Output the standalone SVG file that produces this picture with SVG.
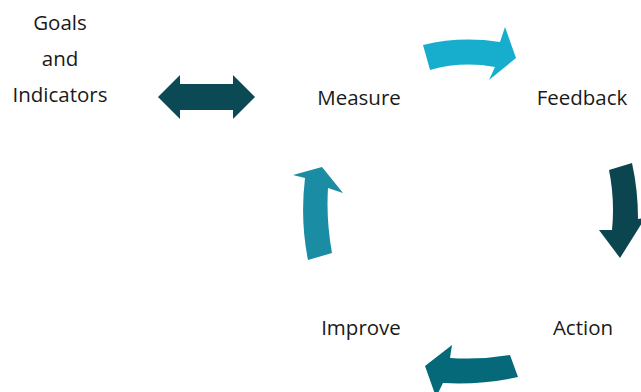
<svg xmlns="http://www.w3.org/2000/svg" width="641" height="392" viewBox="0 0 641 392">
<style>
text { font-family: "Open Sans", "Noto Sans", "DejaVu Sans", sans-serif; font-size: 20.5px; fill: #1a1a1a; }
.dark { fill: #0B4A55; }
</style>
<rect width="641" height="392" fill="#ffffff"/>
<g id="goals">
<text x="60" y="30" text-anchor="middle">Goals</text>
<text x="60" y="66" text-anchor="middle">and</text>
<text x="60" y="102" text-anchor="middle">Indicators</text>
</g>
<g id="measure"><text x="359" y="105" text-anchor="middle">Measure</text></g>
<g id="feedback"><text x="582" y="105" text-anchor="middle">Feedback</text></g>
<g id="action"><text x="583" y="335" text-anchor="middle">Action</text></g>
<g id="improve"><text x="361" y="335" text-anchor="middle">Improve</text></g>
<g id="connectors">
<path class="dark" d="M158,97 L180,75 L180,84 L233,84 L233,75 L255,97 L233,119 L233,110 L180,110 L180,119 Z"/>
<path fill="#17AECD" d="M423,45 Q460,36 500,42 L505,27 L516,58 L489,80 L495,67 Q462,61 430,70 Z"/>
<path fill="#0B4650" d="M609,170 Q615,200 612,230 L599,230 L620,258 L645,218 L638,219 Q638,190 632,163 Z"/>
<path fill="#05697A" d="M510,355 Q480,360 450,358 L452,345 L425,366 L436,397 L443,383 Q482,385 518,377 Z"/>
<path fill="#1A8CA4" d="M308,260 Q300,220 305,178 L293,175 L322,167 L343,193 L328,188 Q326,220 332,253 Z"/>
</g>
</svg>
